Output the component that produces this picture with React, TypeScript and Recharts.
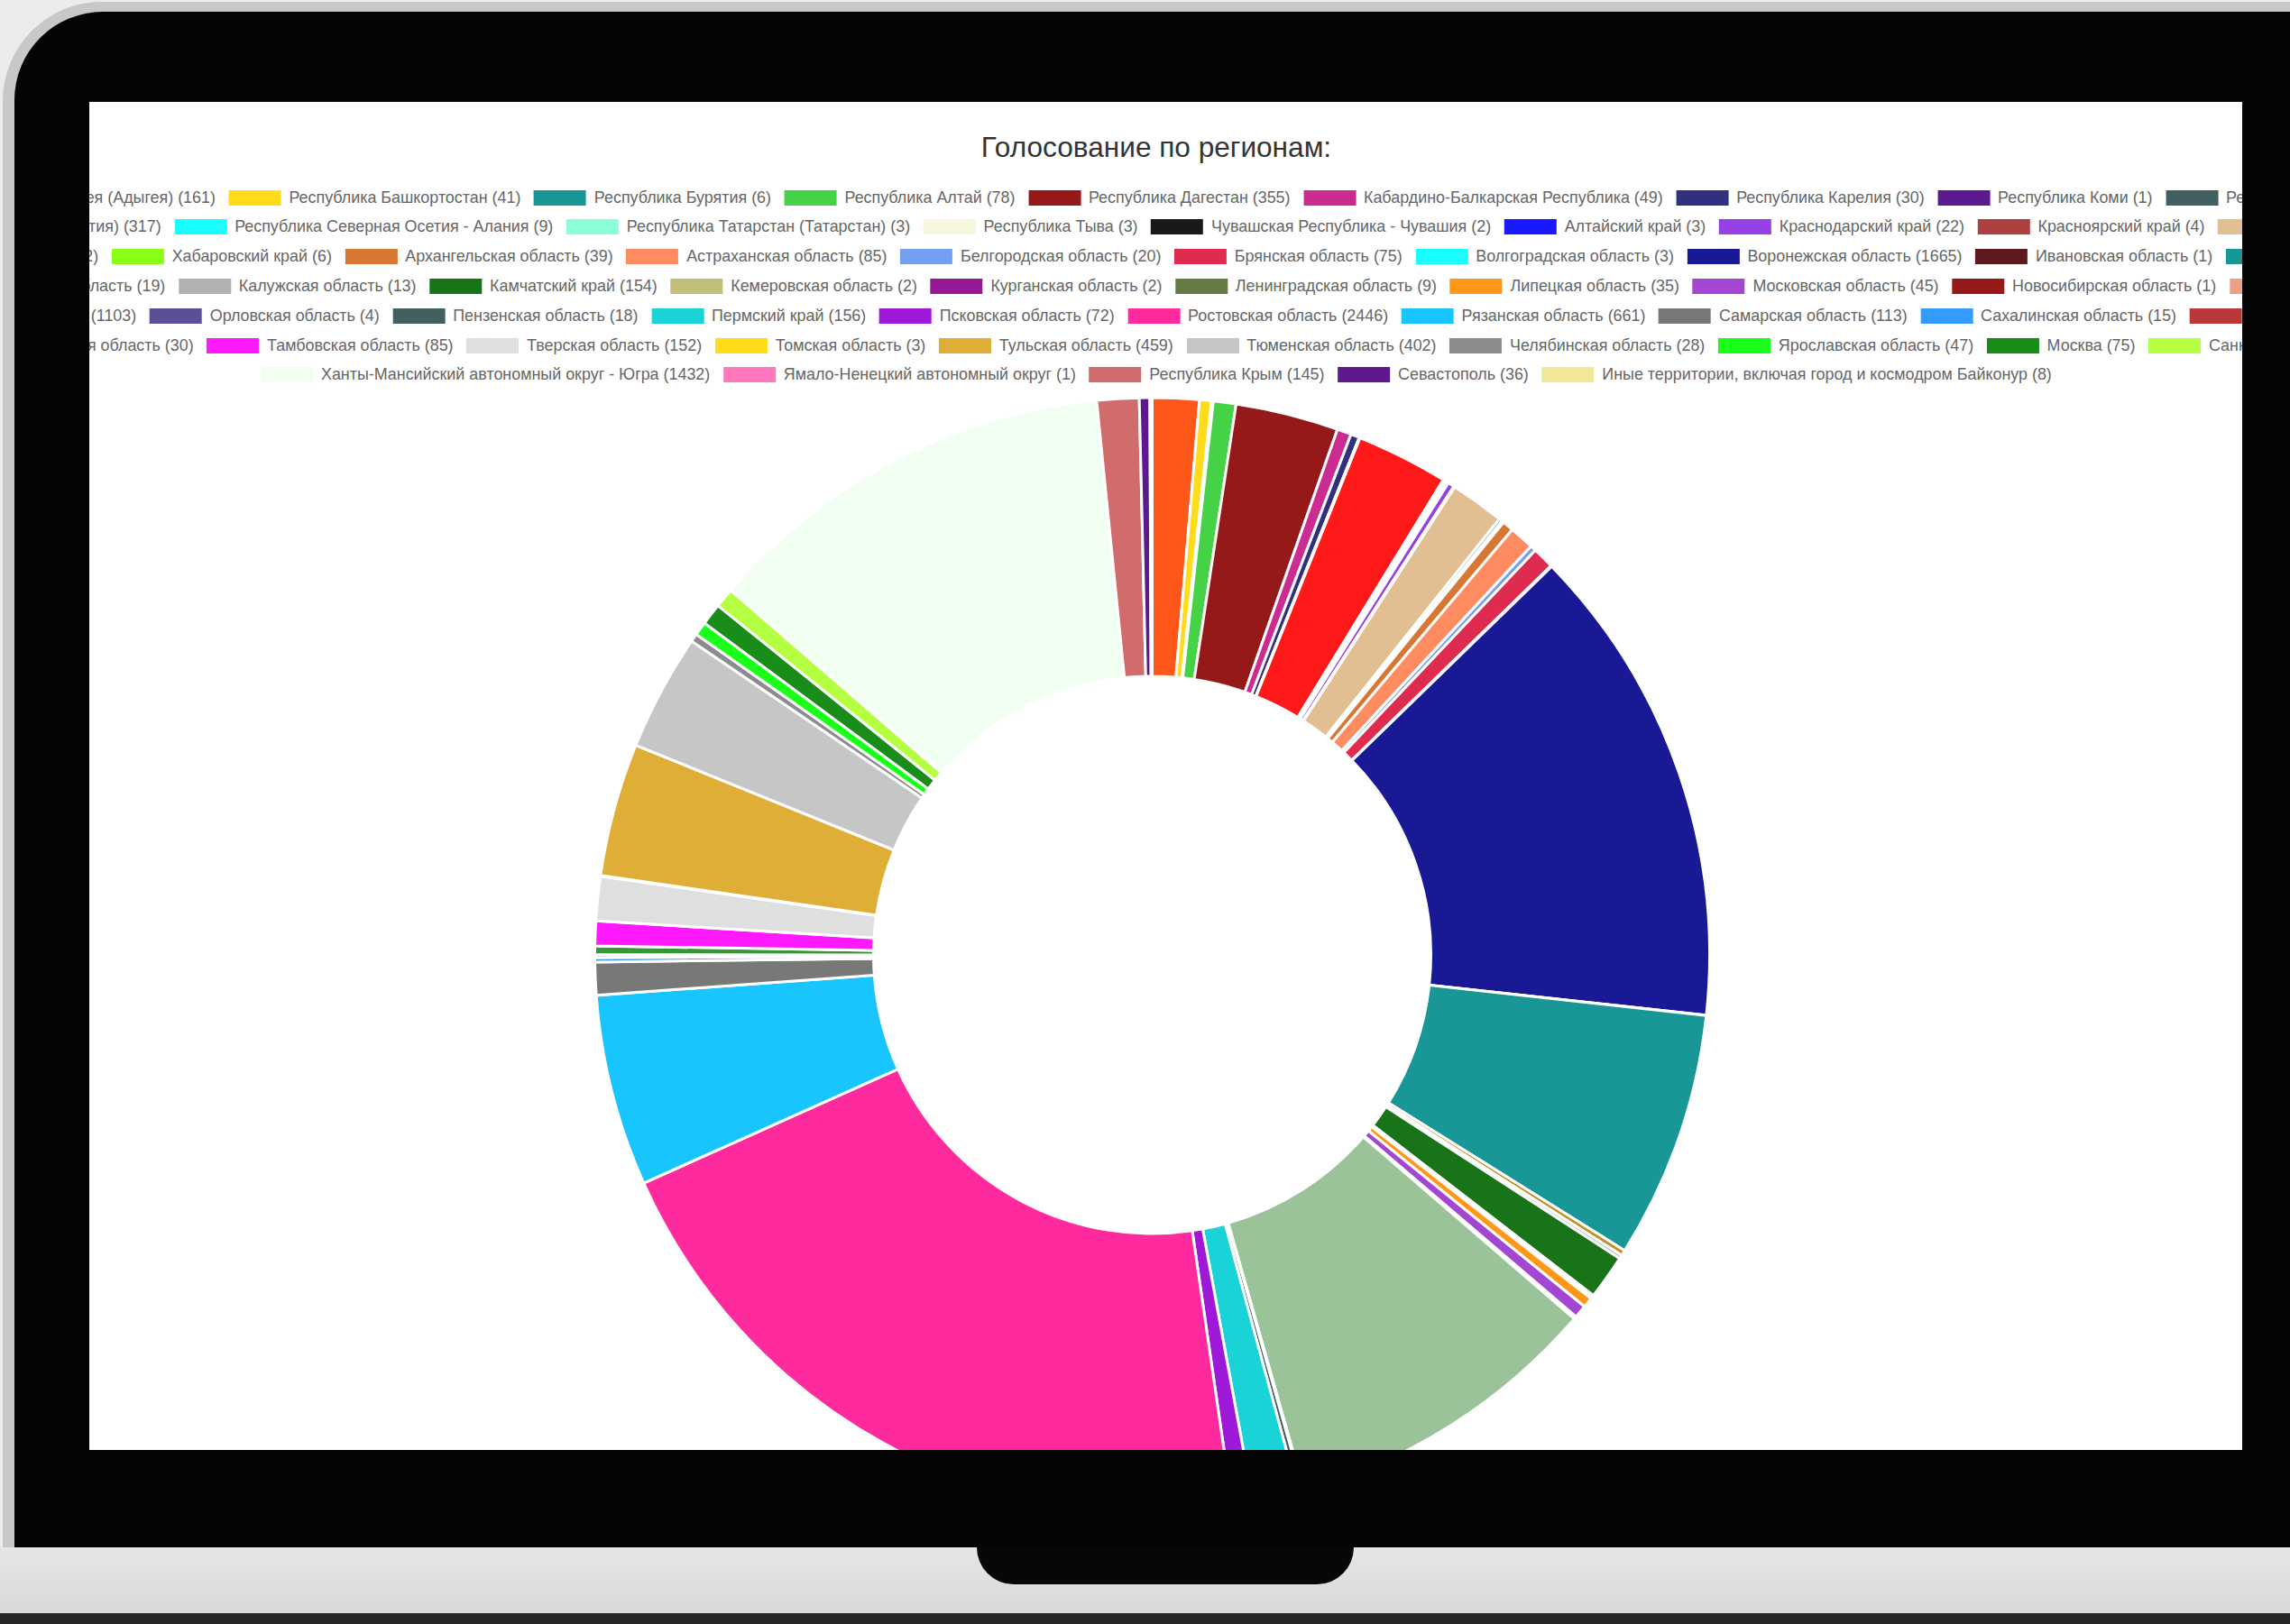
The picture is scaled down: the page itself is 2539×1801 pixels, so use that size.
import React from 'react';
import { PieChart, Pie, Cell } from 'recharts';

const chartTitle = 'Голосование по регионам:';

const regionNames = [
  'Республика Адыгея (Адыгея)', 'Республика Башкортостан', 'Республика Бурятия', 'Республика Алтай',
  'Республика Дагестан', 'Кабардино-Балкарская Республика', 'Республика Карелия', 'Республика Коми',
  'Республика Марий Эл', 'Республика Саха (Якутия)', 'Республика Северная Осетия - Алания',
  'Республика Татарстан (Татарстан)', 'Республика Тыва', 'Чувашская Республика - Чувашия', 'Алтайский край',
  'Краснодарский край', 'Красноярский край', 'Приморский край', 'Ставропольский край', 'Хабаровский край',
  'Архангельская область', 'Астраханская область', 'Белгородская область', 'Брянская область',
  'Волгоградская область', 'Воронежская область', 'Ивановская область', 'Иркутская область',
  'Калининградская область', 'Калужская область', 'Камчатский край', 'Кемеровская область',
  'Курганская область', 'Ленинградская область', 'Липецкая область', 'Московская область',
  'Новосибирская область', 'Омская область', 'Оренбургская область', 'Орловская область',
  'Пензенская область', 'Пермский край', 'Псковская область', 'Ростовская область', 'Рязанская область',
  'Самарская область', 'Сахалинская область', 'Свердловская область', 'Смоленская область',
  'Тамбовская область', 'Тверская область', 'Томская область', 'Тульская область', 'Тюменская область',
  'Челябинская область', 'Ярославская область', 'Москва', 'Санкт-Петербург',
  'Ханты-Мансийский автономный округ - Югра', 'Ямало-Ненецкий автономный округ', 'Республика Крым',
  'Севастополь', 'Иные территории, включая город и космодром Байконур',
];

const regionVotes = [
  161, 41, 6, 78, 355, 49, 30, 1, 2, 317, 9, 3, 3, 2, 3, 22, 4, 186, 12, 6, 39, 85, 20, 75, 3, 1665, 1, 852,
  19, 13, 154, 2, 2, 9, 35, 45, 1, 8, 1103, 4, 18, 156, 72, 2446, 661, 113, 15, 10, 30, 85, 152, 3, 459, 402,
  28, 47, 75, 68, 1432, 1, 145, 36, 8,
];

const regionColors = [
  'orangered', 'gold', 'darkcyan', 'limegreen', 'darkred', 'mediumvioletred', 'midnightblue', 'indigo',
  'darkslategray', 'red', 'aqua', 'aquamarine', 'beige', 'black', 'blue', 'blueviolet', 'brown', 'burlywood',
  'cadetblue', 'chartreuse', 'chocolate', 'coral', 'cornflowerblue', 'crimson', 'cyan', 'darkblue', '#4c0005',
  'darkcyan', 'darkgoldenrod', 'darkgray', 'darkgreen', 'darkkhaki', 'darkmagenta', 'darkolivegreen',
  'darkorange', 'darkorchid', 'darkred', 'darksalmon', 'darkseagreen', 'darkslateblue', 'darkslategray',
  'darkturquoise', 'darkviolet', 'deeppink', 'deepskyblue', 'dimgray', 'dodgerblue', 'firebrick',
  'forestgreen', 'fuchsia', 'gainsboro', 'gold', 'goldenrod', 'silver', 'gray', 'lime', 'green',
  'greenyellow', 'honeydew', 'hotpink', 'indianred', 'indigo', 'khaki',
];

const legendRowSizes = [9, 9, 10, 10, 10, 10, 5];

const pieData = regionNames.map((name, i) => ({ name, value: regionVotes[i] }));

const SCREEN = { left: 99, top: 113, width: 2387, height: 1495 };
const PIE_CX = 1277.5 - SCREEN.left;
const PIE_CY = 1059 - SCREEN.top;
const LEGEND_CX = 1282 - SCREEN.left;
const LEGEND_TOP = 106;
const LEGEND_STEP = 32.8;
const FONT = '"Liberation Sans", Arial, Helvetica, sans-serif';

function LegendRows() {
  const rows: number[][] = [];
  let idx = 0;
  legendRowSizes.forEach((n) => {
    const r: number[] = [];
    for (let k = 0; k < n && idx < regionNames.length; k++) r.push(idx++);
    rows.push(r);
  });
  return (
    <>
      {rows.map((r, ri) => (
        <div
          key={ri}
          style={{
            position: 'absolute',
            left: LEGEND_CX,
            top: LEGEND_TOP + ri * LEGEND_STEP - 11,
            height: 22,
            width: 'max-content',
            transform: 'translateX(-50%)',
            display: 'flex',
            alignItems: 'center',
            whiteSpace: 'nowrap',
            fontFamily: FONT,
            fontSize: 17.9,
            color: '#666',
          }}
        >
          {r.map((i, k) => (
            <div key={i} style={{ display: 'flex', alignItems: 'center', marginRight: k === r.length - 1 ? 0 : 14.7 }}>
              <div style={{ width: 58, height: 17, background: regionColors[i], opacity: 0.9 }} />
              <span style={{ marginLeft: 8.8 }}>{`${regionNames[i]} (${regionVotes[i]})`}</span>
            </div>
          ))}
        </div>
      ))}
    </>
  );
}

export default function App() {
  return (
    <div style={{ position: 'absolute', left: 0, top: 0, width: 2539, height: 1801, overflow: 'hidden', background: '#ececec' }}>
      <div style={{ position: 'absolute', left: 3, top: 2, width: 2700, height: 1714, background: '#c8c8c8', borderTopLeftRadius: 110 }} />
      <div style={{ position: 'absolute', left: 16, top: 13, width: 2700, height: 1703, background: '#040404', borderTopLeftRadius: 98 }} />
      <div style={{ position: 'absolute', left: 0, top: 1716, width: 2539, height: 74, background: 'linear-gradient(#e6e6e6, #d9d9d9)' }} />
      <div style={{ position: 'absolute', left: 0, top: 1789, width: 2539, height: 12, background: '#262626' }} />
      <div style={{ position: 'absolute', left: 1083, top: 1716, width: 418, height: 41, background: '#070707', borderRadius: '0 0 42px 42px' }} />
      <div style={{ position: 'absolute', left: SCREEN.left, top: SCREEN.top, width: SCREEN.width, height: SCREEN.height, background: '#fff', overflow: 'hidden' }}>
        <div
          style={{
            position: 'absolute',
            left: LEGEND_CX,
            top: 32,
            width: 'max-content',
            transform: 'translateX(-50%)',
            fontFamily: FONT,
            fontSize: 31.6,
            lineHeight: '37px',
            color: '#333',
            whiteSpace: 'nowrap',
          }}
        >
          {chartTitle}
        </div>
        <LegendRows />
        <div style={{ position: 'absolute', left: 0, top: 0 }}>
          <PieChart width={SCREEN.width} height={SCREEN.height} margin={{ top: 0, right: 0, bottom: 0, left: 0 }}>
            <Pie
              data={pieData}
              dataKey="value"
              nameKey="name"
              cx={PIE_CX}
              cy={PIE_CY}
              innerRadius={309}
              outerRadius={618}
              startAngle={90}
              endAngle={-270}
              stroke="#ffffff"
              strokeWidth={3}
              isAnimationActive={false}
            >
              {pieData.map((d, i) => (
                <Cell key={d.name} fill={regionColors[i]} fillOpacity={0.9} />
              ))}
            </Pie>
          </PieChart>
        </div>
      </div>
    </div>
  );
}
